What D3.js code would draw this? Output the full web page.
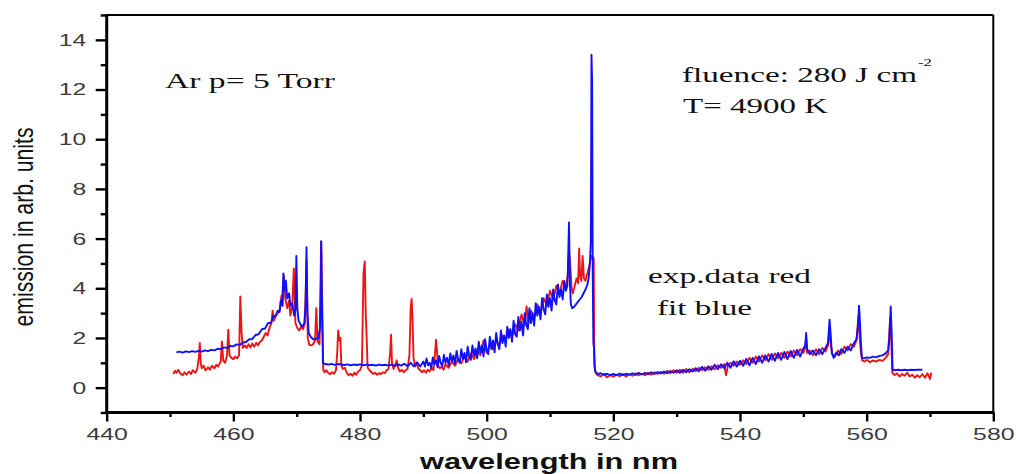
<!DOCTYPE html>
<html>
<head>
<meta charset="utf-8">
<script src="https://cdn.jsdelivr.net/npm/d3@7"></script>
<style>
  html, body { margin: 0; padding: 0; background: #fff; }
  svg { display: block; }
</style>
</head>
<body>
<svg id="chart" width="1016" height="474"></svg>
<script>
// Measured emission spectrum (wavelength nm, intensity arb. units)
const expData = [
  [450.5,0.55],[450.8,0.68],[451.0,0.60],[451.3,0.72],[451.6,0.58],[452.0,0.50],[452.3,0.62],[452.6,0.52],
  [453.0,0.65],[453.3,0.55],[453.6,0.70],[454.0,0.60],[454.3,0.75],[454.55,1.20],[454.7,1.80],[454.85,1.00],
  [455.0,0.78],[455.3,0.88],[455.6,0.70],[456.0,0.82],[456.3,0.72],[456.6,0.88],[457.0,0.78],[457.3,0.92],
  [457.6,0.85],[458.0,1.05],[458.2,1.86],[458.4,1.10],[458.7,1.00],[459.0,1.30],[459.2,2.33],[459.4,1.30],
  [459.7,1.20],[460.0,1.15],[460.3,1.25],[460.6,1.18],[460.9,1.30],[461.1,3.67],[461.3,2.20],[461.5,1.60],
  [461.8,1.70],[462.1,1.60],[462.4,1.75],[462.7,1.62],[463.0,1.78],[463.3,1.65],[463.6,1.80],[463.9,1.70],
  [464.2,1.85],[464.5,1.90],[464.8,2.05],[465.1,2.20],[465.4,2.10],[465.7,2.40],[466.0,2.60],[466.2,3.10],
  [466.4,2.70],[466.7,2.90],[467.0,3.00],[467.3,3.10],[467.6,3.70],[467.8,3.30],[468.0,4.50],[468.2,3.60],
  [468.5,3.20],[468.8,3.50],[469.0,2.90],[469.3,3.30],[469.55,4.80],[469.8,2.60],[470.1,2.40],[470.4,2.30],
  [470.7,2.45],[471.0,2.35],[471.3,2.60],[471.55,5.10],[471.75,2.00],[472.0,1.72],[472.3,1.70],[472.6,1.75],
  [472.9,1.90],[473.1,3.20],[473.3,1.85],[473.6,1.75],[473.8,4.00],[473.9,5.85],[474.05,3.00],[474.2,0.72],
  [474.4,0.62],[474.7,0.70],[475.0,0.58],[475.3,0.55],[475.6,0.62],[475.9,0.56],[476.2,0.70],[476.4,1.40],
  [476.55,2.30],[476.75,1.90],[476.9,2.00],[477.05,0.90],[477.3,0.75],[477.6,0.80],[477.9,0.60],[478.2,0.50],
  [478.5,0.56],[478.8,0.48],[479.1,0.60],[479.4,0.52],[479.7,0.65],[480.0,0.70],[480.3,0.90],[480.55,4.60],
  [480.75,5.08],[480.9,3.00],[481.05,2.00],[481.2,0.80],[481.5,0.70],[481.8,0.62],[482.1,0.55],[482.4,0.60],
  [482.7,0.52],[483.0,0.58],[483.3,0.55],[483.6,0.62],[483.9,0.58],[484.2,0.70],[484.5,0.75],[484.75,1.40],
  [484.9,2.13],[485.05,1.00],[485.3,0.75],[485.6,0.95],[485.8,1.10],[486.0,0.80],[486.3,0.65],[486.6,0.72],
  [486.9,0.62],[487.2,0.70],[487.5,0.75],[487.8,1.30],[488.0,3.20],[488.15,3.57],[488.3,2.70],[488.45,1.20],
  [488.7,0.85],[489.0,1.00],[489.2,0.78],[489.5,0.70],[489.8,0.62],[490.1,0.70],[490.4,0.60],[490.7,0.72],
  [491.0,0.65],[491.3,0.80],[491.6,0.70],[491.85,1.40],[492.0,1.93],[492.15,1.50],[492.3,0.90],[492.6,0.78],
  [492.9,0.85],[493.2,0.72],[493.5,0.95],[494.0,0.80],[494.5,1.05],[495.0,0.88],[495.5,1.15],[496.0,0.98],
  [496.5,1.25],[497.0,1.05],[497.5,1.38],[498.0,1.15],[498.5,1.50],[499.0,1.30],[499.5,1.90],[500.0,1.40],
  [500.5,1.72],[501.0,1.55],[501.5,1.90],[502.0,1.70],[502.5,2.10],[503.0,1.90],[503.5,2.35],[504.0,2.05],
  [504.5,2.55],[505.0,2.30],[505.5,2.95],[506.0,2.50],[506.3,3.27],[506.6,2.60],[507.0,3.10],[507.5,2.80],
  [508.0,3.35],[508.5,3.00],[509.0,3.60],[509.5,3.30],[510.0,3.90],[510.5,3.55],[511.0,4.10],[511.5,3.80],
  [512.0,4.30],[512.5,4.05],[512.8,4.50],[513.0,5.50],[513.2,4.95],[513.4,4.00],[513.6,3.80],[513.9,4.10],
  [514.2,4.40],[514.45,4.20],[514.6,5.60],[514.75,4.50],[514.95,4.30],[515.15,5.30],[515.35,4.40],[515.6,4.30],
  [515.9,4.60],[516.2,4.90],[516.5,5.30],[516.7,5.28],[516.9,5.20],[517.0,0.90],[517.2,0.60],[517.5,0.50],
  [518.0,0.45],[518.5,0.55],[519.0,0.42],[519.5,0.50],[520.0,0.44],[520.5,0.52],[521.0,0.46],[521.5,0.55],
  [522.0,0.45],[522.5,0.54],[523.0,0.48],[523.5,0.58],[524.0,0.50],[524.5,0.56],[525.0,0.50],[525.5,0.60],
  [526.0,0.52],[526.5,0.62],[527.0,0.55],[527.5,0.64],[528.0,0.56],[528.5,0.68],[529.0,0.58],[529.5,0.70],
  [530.0,0.60],[530.5,0.72],[531.0,0.60],[531.5,0.75],[532.0,0.62],[532.5,0.76],[533.0,0.66],[533.5,0.80],
  [534.0,0.70],[534.5,0.82],[535.0,0.72],[535.5,0.86],[536.0,0.74],[536.5,0.90],[537.0,0.80],[537.5,0.95],
  [537.8,0.50],[538.1,0.90],[538.5,1.00],[539.0,0.88],[539.5,1.05],[540.0,0.92],[540.5,1.10],[541.0,0.95],
  [541.5,1.20],[542.0,1.00],[542.5,1.25],[543.0,1.05],[543.5,1.30],[544.0,1.10],[544.5,1.35],[545.0,1.12],
  [545.5,1.38],[546.0,1.18],[546.5,1.40],[547.0,1.20],[547.5,1.45],[548.0,1.25],[548.5,1.50],[549.0,1.30],
  [549.5,1.55],[550.0,1.40],[550.3,1.60],[550.45,2.00],[550.6,1.40],[551.0,1.50],[551.5,1.30],[552.0,1.55],
  [552.5,1.35],[553.0,1.60],[553.5,1.45],[553.9,1.70],[554.15,2.40],[554.35,1.70],[554.6,1.35],[555.0,1.25],
  [555.5,1.50],[556.0,1.35],[556.5,1.65],[557.0,1.50],[557.5,1.75],[558.0,1.65],[558.4,1.90],[558.7,2.90],
  [558.9,2.00],[559.1,1.40],[559.3,1.10],[559.7,1.05],[560.1,1.12],[560.5,1.02],[561.0,1.10],[561.5,1.05],
  [562.0,1.12],[562.5,1.08],[563.0,1.20],[563.4,1.35],[563.7,2.80],[563.9,1.80],[564.05,0.60],[564.4,0.50],
  [564.8,0.58],[565.2,0.45],[565.6,0.55],[566.0,0.48],[566.4,0.60],[566.8,0.45],[567.2,0.52],[567.6,0.40],
  [568.0,0.50],[568.4,0.42],[568.8,0.55],[569.2,0.40],[569.6,0.58],[570.0,0.35],[570.2,0.60]
];

// Fitted spectrum (wavelength nm, intensity arb. units)
const fitData = [
  [451.0,1.42],[451.5,1.45],[452.0,1.41],[452.5,1.46],[453.0,1.43],[453.5,1.47],[454.0,1.44],[454.5,1.48],
  [455.0,1.45],[455.5,1.50],[456.0,1.47],[456.5,1.52],[457.0,1.50],[457.5,1.56],[458.0,1.55],[458.5,1.62],
  [459.0,1.60],[459.5,1.68],[460.0,1.66],[460.5,1.74],[461.0,1.72],[461.5,1.82],[462.0,1.84],[462.5,1.95],
  [463.0,1.96],[463.5,2.12],[464.0,2.15],[464.5,2.35],[465.0,2.38],[465.5,2.60],[466.0,2.62],[466.3,2.90],
  [466.6,2.85],[467.0,3.10],[467.3,3.05],[467.5,3.50],[467.7,3.30],[467.9,4.60],[468.1,3.90],[468.3,4.30],
  [468.5,3.60],[468.8,3.80],[469.0,3.30],[469.3,3.40],[469.6,2.90],[469.8,3.10],[469.95,5.30],[470.1,3.20],
  [470.3,2.70],[470.6,2.55],[470.9,2.45],[471.2,2.60],[471.4,3.30],[471.55,5.65],[471.7,3.00],[471.9,2.20],
  [472.2,2.05],[472.6,1.95],[473.0,1.95],[473.4,2.00],[473.7,2.40],[473.85,5.90],[474.0,3.20],[474.15,0.98],
  [474.5,0.95],[475.0,0.93],[475.5,0.96],[476.0,0.92],[476.5,0.95],[477.0,0.93],[477.5,0.91],[478.0,0.94],
  [478.5,0.90],[479.0,0.93],[479.5,0.91],[480.0,0.94],[480.5,0.90],[481.0,0.93],[481.5,0.90],[482.0,0.92],
  [482.5,0.89],[483.0,0.93],[483.5,0.90],[484.0,0.92],[484.5,0.89],[485.0,0.93],[485.5,0.88],[486.0,0.94],
  [486.5,0.89],[487.0,0.96],[487.5,0.86],[488.0,1.00],[488.5,0.86],[489.0,1.02],[489.5,0.85],
  [490.0,1.05],[490.25,0.85],[490.5,1.18],[490.75,0.90],[491.0,1.00],[491.25,0.78],[491.5,1.22],[491.75,0.95],
  [492.0,1.10],[492.25,0.82],[492.5,1.28],[492.75,0.98],[493.0,0.88],[493.25,1.32],[493.5,1.00],[493.75,1.20],
  [494.0,0.90],[494.25,1.38],[494.5,1.05],[494.75,1.30],[495.0,0.95],[495.25,1.48],[495.5,1.12],[495.75,1.00],
  [496.0,1.55],[496.25,1.15],[496.5,1.40],[496.75,1.02],[497.0,1.65],[497.25,1.25],[497.5,1.12],[497.75,1.70],
  [498.0,1.30],[498.25,1.58],[498.5,1.18],[498.75,1.85],[499.0,1.40],[499.25,1.70],[499.5,1.25],[499.75,1.95],
  [500.0,1.50],[500.25,1.35],[500.5,2.05],[500.75,1.55],[501.0,1.90],[501.25,1.42],[501.5,2.20],[501.75,1.75],
  [502.0,1.55],[502.25,2.30],[502.5,1.80],[502.75,2.10],[503.0,1.65],[503.25,2.45],[503.5,2.00],[503.75,2.35],
  [504.0,1.85],[504.25,2.70],[504.5,2.15],[504.75,2.05],[505.0,2.85],[505.25,2.30],[505.5,2.65],[505.75,2.10],
  [506.0,3.00],[506.25,2.55],[506.5,2.35],[506.75,3.20],[507.0,2.60],[507.25,3.00],[507.5,2.50],[507.75,3.40],
  [508.0,2.90],[508.25,3.25],[508.5,2.75],[508.75,3.60],[509.0,3.15],[509.25,2.95],[509.5,3.75],[509.75,3.25],
  [510.0,3.60],[510.25,3.10],[510.5,3.95],[510.75,3.50],[511.0,3.35],[511.25,4.15],[511.5,3.65],[511.75,3.95],
  [512.0,3.55],[512.25,4.30],[512.5,3.90],[512.75,4.10],[512.85,5.00],[513.0,6.65],[513.15,4.20],[513.3,3.35],
  [513.5,3.20],[513.8,3.25],[514.1,3.35],[514.4,3.45],[514.7,3.55],[515.0,3.65],[515.3,3.80],[515.6,3.95],
  [515.9,4.15],[516.1,4.40],[516.3,5.00],[516.45,5.90],[516.55,13.40],[516.65,12.30],[516.75,4.50],[516.85,1.80],
  [516.95,1.60],[517.1,0.70],[517.3,0.60],[517.6,0.55],[518.0,0.58],[518.5,0.52],[519.0,0.56],[519.5,0.50],
  [520.0,0.55],[520.5,0.50],[521.0,0.57],[521.5,0.50],[522.0,0.56],[522.5,0.52],[523.0,0.58],[523.5,0.51],
  [524.0,0.60],[524.5,0.53],[525.0,0.60],[525.5,0.54],[526.0,0.62],[526.5,0.55],[527.0,0.63],[527.5,0.57],
  [528.0,0.65],[528.5,0.58],[529.0,0.67],[529.5,0.60],[530.0,0.70],[530.5,0.60],[531.0,0.72],[531.5,0.62],
  [532.0,0.74],[532.5,0.65],[533.0,0.78],[533.5,0.66],[534.0,0.84],[534.5,0.68],[535.0,0.86],[535.5,0.72],
  [536.0,0.92],[536.5,0.74],[537.0,0.94],[537.5,0.78],[538.0,1.00],[538.5,0.80],[539.0,1.06],[539.5,0.85],
  [540.0,1.08],[540.5,0.88],[541.0,1.16],[541.5,0.90],[542.0,1.20],[542.5,0.95],[543.0,1.26],[543.5,1.00],
  [544.0,1.30],[544.5,1.05],[545.0,1.36],[545.5,1.08],[546.0,1.40],[546.5,1.12],[547.0,1.44],[547.5,1.15],
  [548.0,1.48],[548.5,1.20],[549.0,1.52],[549.5,1.25],[550.0,1.58],[550.3,1.70],[550.45,2.20],[550.6,1.55],
  [551.0,1.35],[551.5,1.50],[552.0,1.30],[552.5,1.55],[553.0,1.35],[553.5,1.60],[553.9,1.80],[554.15,2.74],
  [554.3,2.20],[554.5,1.40],[554.8,1.20],[555.2,1.42],[555.6,1.30],[556.0,1.55],[556.5,1.40],[557.0,1.65],
  [557.5,1.50],[558.0,1.80],[558.4,1.95],[558.65,2.50],[558.8,3.30],[558.95,2.60],[559.1,1.80],[559.25,1.20],
  [559.6,1.18],[560.0,1.22],[560.5,1.20],[561.0,1.25],[561.5,1.22],[562.0,1.28],[562.5,1.30],[563.0,1.38],
  [563.4,1.50],[563.6,2.00],[563.8,3.27],[563.95,2.20],[564.1,0.72],[564.5,0.70],[565.0,0.72],[565.5,0.70],
  [566.0,0.72],[566.5,0.70],[567.0,0.72],[567.5,0.71],[568.0,0.72],[568.8,0.72]
];

const xMajorTicks = [440, 460, 480, 500, 520, 540, 560, 580];
const xMinorTicks = [450, 470, 490, 510, 530, 550, 570];
const yMajorTicks = [0, 2, 4, 6, 8, 10, 12, 14];
const yMinorTicks = [-1, 1, 3, 5, 7, 9, 11, 13, 15];

const svg = d3.select("#chart");
const plotLeft = 106.7, plotRight = 993.3, plotTop = 15, plotBottom = 412.5;

const x = d3.scaleLinear().domain([440, 580]).range([plotLeft, plotRight]);
const y = d3.scaleLinear().domain([-1, 15]).range([plotBottom, plotTop]);

// widen glyphs horizontally by a factor, keeping the text anchor
function widen(sel, factor) {
  sel.each(function () {
    const w = this.getComputedTextLength();
    this.setAttribute("textLength", (w * factor).toFixed(2));
    this.setAttribute("lengthAdjust", "spacingAndGlyphs");
  });
}

svg.append("rect").attr("width", 1016).attr("height", 474).attr("fill", "#fff");

// spectra
const line = d3.line().x(d => x(d[0])).y(d => y(d[1]));
svg.append("path").datum(expData)
  .attr("d", line).attr("fill", "none")
  .attr("stroke", "#ee1414").attr("stroke-width", 1.9).attr("stroke-linejoin", "round");
svg.append("path").datum(fitData)
  .attr("d", line).attr("fill", "none")
  .attr("stroke", "#1010ff").attr("stroke-width", 1.9).attr("stroke-linejoin", "round");

// axes
const tickFont = "'Liberation Sans', Arial, sans-serif";

const yMinor = svg.append("g").attr("transform", `translate(${plotLeft},0)`)
  .call(d3.axisLeft(y).tickValues(yMinorTicks).tickSize(6).tickFormat(""));
const yMajor = svg.append("g").attr("transform", `translate(${plotLeft},0)`)
  .call(d3.axisLeft(y).tickValues(yMajorTicks).tickSize(11).tickPadding(9.5).tickFormat(d3.format("d")));
const xMinor = svg.append("g").attr("transform", `translate(0,${plotBottom})`)
  .call(d3.axisBottom(x).tickValues(xMinorTicks).tickSize(4.5).tickFormat(""));
const xMajor = svg.append("g").attr("transform", `translate(0,${plotBottom})`)
  .call(d3.axisBottom(x).tickValues(xMajorTicks).tickSize(9).tickFormat(d3.format("d")));

[yMinor, yMajor, xMinor, xMajor].forEach(g => {
  g.select(".domain").remove();
  g.selectAll(".tick line").attr("stroke", "#000").attr("stroke-width", 2.4);
});

yMajor.selectAll(".tick text")
  .attr("font-family", tickFont).attr("font-size", 17).attr("fill", "#3c3c3c");
widen(yMajor.selectAll(".tick text"), 1.45);

xMajor.selectAll(".tick text")
  .attr("font-family", tickFont).attr("font-size", 16).attr("fill", "#3c3c3c")
  .attr("y", 27.5).attr("dy", 0);
widen(xMajor.selectAll(".tick text"), 1.55);

// frame
svg.append("line").attr("x1", plotLeft).attr("x2", plotRight).attr("y1", plotTop).attr("y2", plotTop)
  .attr("stroke", "#000").attr("stroke-width", 2);
svg.append("line").attr("x1", plotRight).attr("x2", plotRight).attr("y1", plotTop).attr("y2", plotBottom)
  .attr("stroke", "#000").attr("stroke-width", 2);
svg.append("line").attr("x1", plotLeft).attr("x2", plotLeft).attr("y1", plotTop - 1).attr("y2", plotBottom + 1.5)
  .attr("stroke", "#000").attr("stroke-width", 3);
svg.append("line").attr("x1", plotLeft - 1.5).attr("x2", plotRight + 1).attr("y1", plotBottom).attr("y2", plotBottom)
  .attr("stroke", "#000").attr("stroke-width", 3);

// axis titles
svg.append("text")
  .attr("transform", "translate(33.3,227) rotate(-90) scale(1,1.35)")
  .attr("text-anchor", "middle")
  .attr("font-family", tickFont).attr("font-size", 21).attr("fill", "#111")
  .attr("textLength", 199).attr("lengthAdjust", "spacingAndGlyphs")
  .text("emission in arb. units");

svg.append("text")
  .attr("x", 549).attr("y", 469)
  .attr("text-anchor", "middle")
  .attr("font-family", tickFont).attr("font-size", 22).attr("font-weight", "bold").attr("fill", "#111")
  .attr("textLength", 258).attr("lengthAdjust", "spacingAndGlyphs")
  .text("wavelength in nm");

// annotations
const serif = "'Liberation Serif', 'Times New Roman', serif";
const notes = [
  { text: "Ar p= 5 Torr", x: 165, y: 88, size: 20, width: 170 },
  { text: "fluence: 280 J cm", x: 682, y: 82, size: 21, width: 235 },
  { text: "-2", x: 918, y: 66, size: 11, width: 14 },
  { text: "T= 4900 K", x: 683, y: 113, size: 21, width: 145 },
  { text: "exp.data red", x: 648, y: 283, size: 20.5, width: 163 },
  { text: "fit blue", x: 657, y: 315, size: 20.5, width: 95 }
];
svg.selectAll("text.note").data(notes).join("text")
  .attr("class", "note")
  .attr("x", d => d.x).attr("y", d => d.y)
  .attr("font-family", serif).attr("font-size", d => d.size).attr("fill", "#111")
  .attr("textLength", d => d.width).attr("lengthAdjust", "spacingAndGlyphs")
  .text(d => d.text);
</script>
</body>
</html>
